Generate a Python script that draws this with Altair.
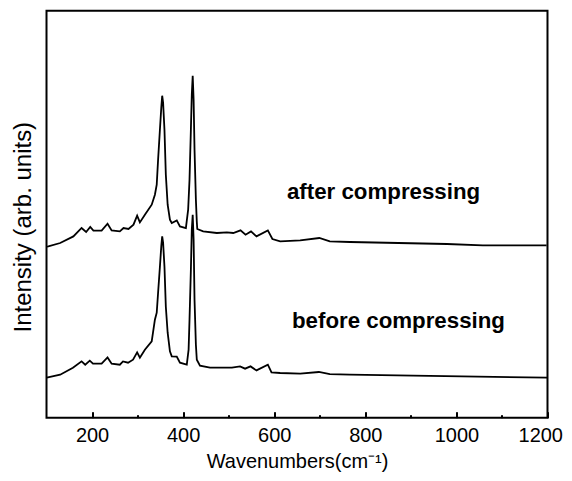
import altair as alt
import pandas as pd

# Raman spectra (wavenumber in cm-1, intensity in arbitrary units)
before_wn = [100, 103, 130, 158, 177, 185, 195, 202, 221, 234, 243, 261, 268, 279, 290, 299, 305, 316,
             331, 338, 342, 345, 349, 352, 354, 356, 359, 362, 366, 371, 375, 386, 393, 408, 412, 414,
             417, 419, 421, 423, 425, 428, 430, 437, 459, 481, 507, 525, 536, 548, 561, 586, 594, 613,
             657, 698, 722, 766, 905, 1199]
before_int = [40, 40.3, 43, 50, 56.3, 53, 57, 54, 54, 60.3, 54, 53, 56.3, 55, 58, 65.3, 60, 68,
              76.3, 98, 105, 125, 151, 171.3, 181.3, 175, 151, 111, 85, 66.3, 61.3, 61, 55, 53, 68, 98,
              148, 188, 203, 178, 118, 73, 58, 52, 50, 50, 50, 51.3, 49, 51.3, 47.3, 53, 45.3, 44.7,
              44, 45.7, 43.5, 43, 42, 40]

after_wn = [100, 104, 130, 159, 177, 187, 196, 203, 221, 234, 243, 261, 269, 280, 291, 299, 305, 316,
            331, 338, 342, 345, 349, 352, 354, 356, 359, 362, 366, 371, 375, 386, 393, 406, 411, 414,
            417, 419, 421, 423, 425, 428, 430, 431, 444, 474, 496, 510, 526, 537, 549, 561, 586, 596,
            613, 657, 699, 722, 766, 979, 1058, 1198]
after_int = [171, 171.3, 174.7, 181.3, 189.7, 185.7, 190.7, 187, 187, 194, 187.3, 186.3, 189.7, 188.7, 193, 202, 195.3, 203,
             213, 223, 233, 258, 288, 310, 322, 315, 288, 243, 213, 198, 194.7, 197.3, 191.3, 189.7, 208, 238,
             288, 323, 342, 318, 268, 218, 196, 188.7, 186.3, 184.7, 185.3, 184.7, 187.3, 183, 186.3, 181.3, 187.3, 178.7,
             176.3, 177.3, 179.7, 176.3, 175.7, 173.7, 172.3, 172.3]

label_text = ["after compressing", "before compressing"]
label_wn = [628, 639]
label_int = [219, 90]

major_ticks = [200, 400, 600, 800, 1000, 1200]
minor_ticks = [300, 500, 700, 900, 1100]

df = pd.concat([
    pd.DataFrame({"wn": before_wn, "intensity": before_int, "series": "before"}),
    pd.DataFrame({"wn": after_wn, "intensity": after_int, "series": "after"}),
], ignore_index=True)
labels_df = pd.DataFrame({"wn": label_wn, "intensity": label_int, "text": label_text})

FONT = "Liberation Sans"
x_scale = alt.Scale(domain=[100, 1200], nice=False, zero=False)
y_scale = alt.Scale(domain=[0, 407], nice=False, zero=False)

lines = alt.Chart(df).mark_line(color="black", strokeWidth=1.8).encode(
    x=alt.X("wn:Q", scale=x_scale,
            axis=alt.Axis(values=major_ticks, format="d", orient="bottom", offset=-6, tickSize=6, tickWidth=2,
                          tickColor="black", domain=False, grid=False, labelFont=FONT, labelFontSize=20,
                          labelColor="black", labelPadding=8, labelFlush=True, labelFlushOffset=15,
                          labelOverlap=False,
                          title="Wavenumbers(cm⁻¹)", titleFont=FONT, titleFontSize=20,
                          titleFontWeight="normal", titleColor="black", titlePadding=6)),
    y=alt.Y("intensity:Q", scale=y_scale,
            axis=alt.Axis(labels=False, ticks=False, domain=False, grid=False,
                          title="Intensity (arb. units)", titleFont=FONT, titleFontSize=24,
                          titleFontWeight="normal", titleColor="black", titlePadding=11, titleY=216)),
    detail="series:N",
)

texts = alt.Chart(labels_df).mark_text(align="left", baseline="alphabetic", font=FONT, fontSize=22.3,
                                        fontWeight="bold", color="black").encode(
    x=alt.X("wn:Q", scale=x_scale,
            axis=alt.Axis(values=minor_ticks, orient="bottom", offset=-3, tickSize=3, tickWidth=2,
                          tickColor="black", domain=False, grid=False, labels=False, title=None)),
    y=alt.Y("intensity:Q", scale=y_scale, axis=None),
    text="text:N",
)

chart = alt.layer(lines, texts).resolve_scale(x="shared", y="shared").resolve_axis(
    x="independent", y="independent"
).properties(
    width=501, height=407,
    autosize=alt.AutoSizeParams(type="none"),
    padding={"left": 38.5, "top": 2.7, "right": 16, "bottom": 55},
).configure_view(stroke="black", strokeWidth=2)

chart.save("out.html", embed_options={"renderer": "svg", "actions": False})
